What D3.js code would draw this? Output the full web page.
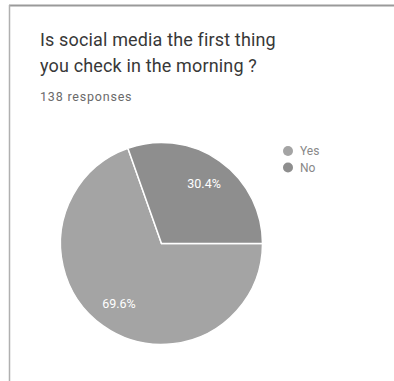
<!DOCTYPE html>
<html>
<head>
<meta charset="utf-8">
<script src="https://cdn.jsdelivr.net/npm/d3@7"></script>
<style>
  html, body { margin: 0; padding: 0; background: #fff; }
  svg { display: block; font-family: Roboto, "Noto Sans", sans-serif; }
</style>
</head>
<body>
<svg id="chart" width="394" height="381"></svg>
<script>
// Survey answers
const answers = ["Yes", "No"];
const shares = [69.6, 30.4];
const sliceColors = ["#a4a4a4", "#8e8e8e"];
const titleLines = ["Is social media the first thing", "you check in the morning ?"];
const responseCount = "138 responses";

const svg = d3.select("#chart");

// Card outline (top and left edges)
svg.append("line").attr("x1", 9).attr("x2", 394).attr("y1", 5.5).attr("y2", 5.5)
  .attr("stroke", "#9a9a9a").attr("stroke-width", 2);
svg.append("line").attr("x1", 9.5).attr("x2", 9.5).attr("y1", 5).attr("y2", 381)
  .attr("stroke", "#b0b0b0").attr("stroke-width", 1.5);

// Title and response count
svg.selectAll("text.title").data(titleLines).join("text")
  .attr("class", "title")
  .attr("x", 40).attr("y", (d, i) => 46 + i * 26)
  .attr("font-size", 18).attr("fill", "#383838").attr("letter-spacing", 0.15)
  .text(d => d);
svg.append("text").attr("x", 40).attr("y", 101)
  .attr("font-size", 12.5).attr("fill", "#6a6a6a").attr("letter-spacing", 0.8)
  .text(responseCount);

// Pie
const cx = 161.5, cy = 243.5, r = 101;
const color = d3.scaleOrdinal().domain(answers).range(sliceColors);
const pie = d3.pie().sort(null).value(d => d.value)
  .startAngle(Math.PI / 2).endAngle(Math.PI / 2 + 2 * Math.PI);
const data = answers.map((a, i) => ({ answer: a, value: shares[i] }));
const arcs = pie(data);
const arc = d3.arc().innerRadius(0).outerRadius(r);
const labelArc = d3.arc().innerRadius(r * 0.73).outerRadius(r * 0.73);

const g = svg.append("g").attr("transform", `translate(${cx},${cy})`);
g.selectAll("path").data(arcs).join("path")
  .attr("d", arc)
  .attr("fill", d => color(d.data.answer))
  .attr("stroke", "#fff").attr("stroke-width", 1.5);
g.selectAll("text").data(arcs).join("text")
  .attr("transform", d => `translate(${labelArc.centroid(d)})`)
  .attr("text-anchor", "middle").attr("dy", "0.35em")
  .attr("font-size", 12.5).attr("fill", "#fff")
  .text(d => d.data.value.toFixed(1) + "%");

// Legend
const legend = svg.append("g").attr("transform", "translate(288,151)");
const items = legend.selectAll("g").data(answers).join("g")
  .attr("transform", (d, i) => `translate(0,${i * 16.5})`);
items.append("circle").attr("r", 5).attr("fill", d => color(d));
items.append("text").attr("x", 12).attr("dy", "0.35em")
  .attr("font-size", 12).attr("fill", "#888").text(d => d);
</script>
</body>
</html>
